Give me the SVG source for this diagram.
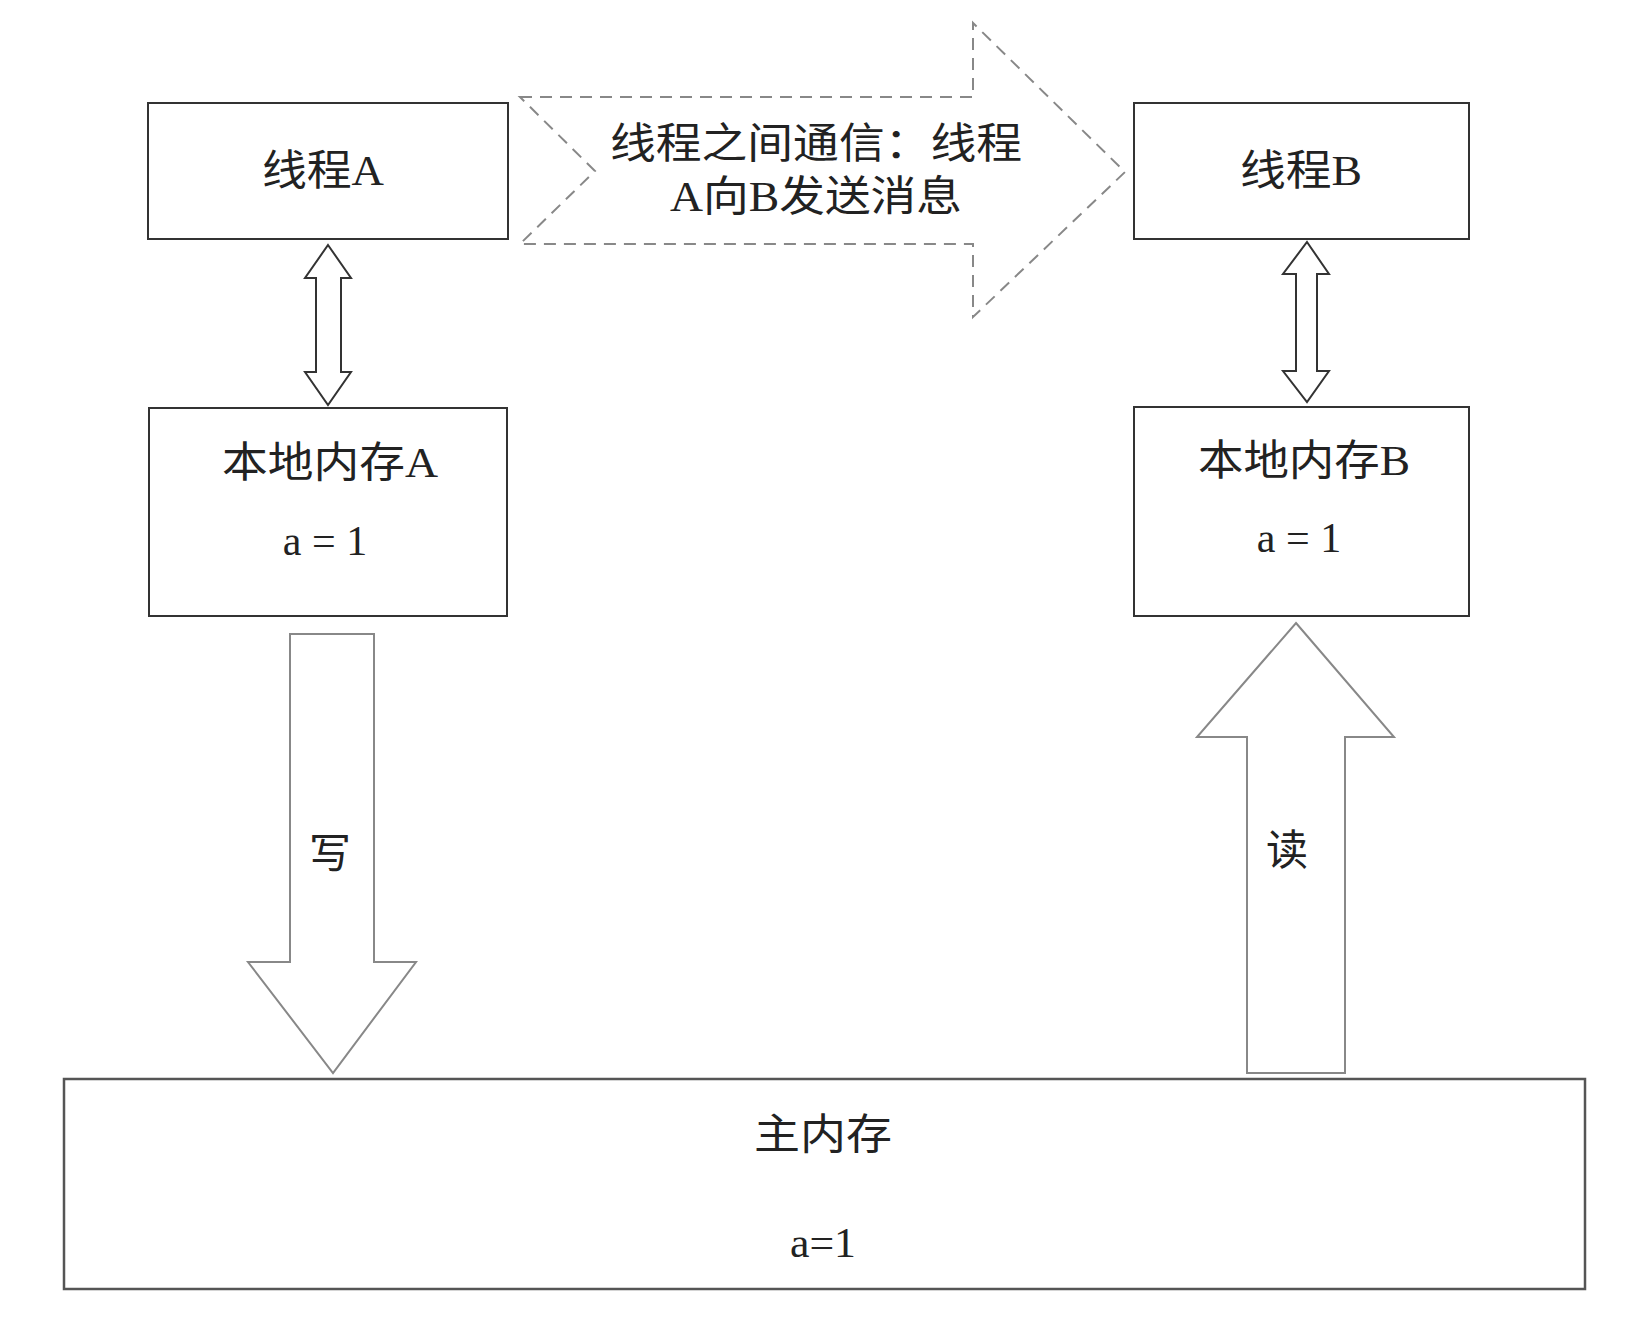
<svg xmlns="http://www.w3.org/2000/svg" width="1634" height="1318" viewBox="0 0 1634 1318">
  <style>
    .box { fill: #fff; stroke: #333; stroke-width: 2; }
    .big { fill: #fff; stroke: #555; stroke-width: 2.5; }
    .dbl { fill: #fff; stroke: #333; stroke-width: 2; }
    .fat { fill: #fff; stroke: #888; stroke-width: 2; }
    .dash { fill: #fff; stroke: #888; stroke-width: 2; stroke-dasharray: 12 8; }
    text { font-family: "Liberation Serif", "Noto Sans CJK SC", serif; font-size: 42px; fill: #222; text-anchor: middle; }
  </style>
  <rect width="1634" height="1318" fill="#fff"/>

  <g id="connectors">
    <g id="msg-arrow">
      <path class="dash" d="M520,97 L973,97 L973,23 L1125,172 L973,317 L973,244 L520,244 L595,171 Z"/>
      <text x="816" y="158" textLength="412" lengthAdjust="spacingAndGlyphs">线程之间通信：线程</text>
      <text x="816" y="211" textLength="292" lengthAdjust="spacingAndGlyphs">A向B发送消息</text>
    </g>
    <path id="dbl-a" class="dbl" d="M328,245 L351,278 L341,278 L341,372 L351,372 L328,405 L305,372 L316,372 L316,278 L305,278 Z"/>
    <path id="dbl-b" class="dbl" d="M1307,242 L1329,274 L1317,274 L1317,371 L1329,371 L1307,402 L1283,371 L1296,371 L1296,274 L1283,274 Z"/>
    <g id="write-arrow">
      <path class="fat" d="M290,634 L374,634 L374,962 L416,962 L333,1073 L248,962 L290,962 Z"/>
      <text x="330" y="868">写</text>
    </g>
    <g id="read-arrow">
      <path class="fat" d="M1296,623 L1394,737 L1345,737 L1345,1073 L1247,1073 L1247,737 L1197,737 Z"/>
      <text x="1287" y="865">读</text>
    </g>
  </g>

  <g id="thread-a">
    <rect class="box" x="148" y="103" width="360" height="136"/>
    <text x="323" y="185" textLength="122" lengthAdjust="spacingAndGlyphs">线程A</text>
  </g>
  <g id="thread-b">
    <rect class="box" x="1134" y="103" width="335" height="136"/>
    <text x="1301" y="185" textLength="122" lengthAdjust="spacingAndGlyphs">线程B</text>
  </g>
  <g id="local-a">
    <rect class="box" x="149" y="408" width="358" height="208"/>
    <text x="330" y="477" textLength="216" lengthAdjust="spacingAndGlyphs">本地内存A</text>
    <text x="325" y="555">a = 1</text>
  </g>
  <g id="local-b">
    <rect class="box" x="1134" y="407" width="335" height="209"/>
    <text x="1304" y="475" textLength="212" lengthAdjust="spacingAndGlyphs">本地内存B</text>
    <text x="1299" y="552">a = 1</text>
  </g>
  <g id="main-memory">
    <rect class="big" x="64" y="1079" width="1521" height="210"/>
    <text x="823" y="1149" textLength="138" lengthAdjust="spacingAndGlyphs">主内存</text>
    <text x="823" y="1257" textLength="66" lengthAdjust="spacingAndGlyphs">a=1</text>
  </g>
</svg>
